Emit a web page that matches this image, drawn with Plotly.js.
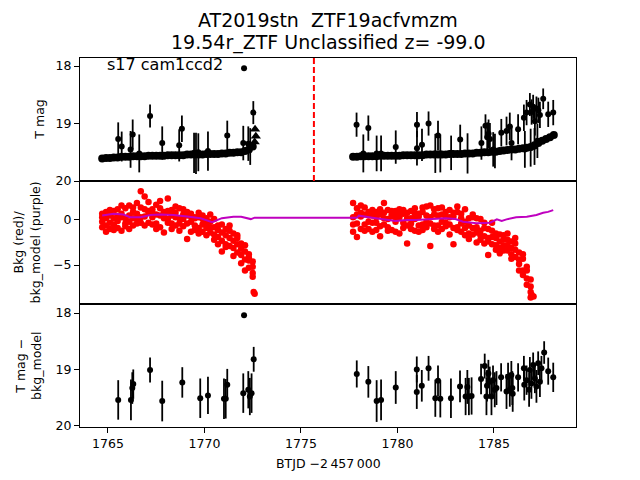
<!DOCTYPE html>
<html>
<head>
<meta charset="utf-8">
<script src="https://cdn.plot.ly/plotly-3.0.1.min.js"></script>
<style>html,body{margin:0;padding:0;background:#fff;}#plot{width:640px;height:480px;}</style>
</head>
<body>
<div id="plot"></div>
<script>
// ---------- data ----------
const t1 = [1764.7,1764.9,1765.1,1765.3,1765.5,1765.7,1765.9,1766.1,1766.3,1766.5,1766.7,1766.9,1767.1,1767.3,1767.5,1767.7,1767.9,1768.1,1768.3,1768.5,1768.7,1768.9,1769.1,1769.3,1769.5,1769.7,1769.9,1770.1,1770.3,1770.5,1770.7,1770.9,1771.1,1771.3,1771.5,1771.7,1771.9,1772.1,1772.3,1772.5];
const band1 = [19.61,19.60,19.60,19.59,19.59,19.58,19.58,19.58,19.57,19.57,19.57,19.57,19.56,19.56,19.56,19.56,19.56,19.55,19.55,19.55,19.55,19.55,19.54,19.54,19.54,19.54,19.54,19.53,19.53,19.53,19.53,19.52,19.52,19.51,19.51,19.50,19.50,19.48,19.45,19.40];
const bkgA1 = [0.3,-0.6,1.1,0.2,-0.9,0.7,1.3,-0.2,0.9,0.1,3.2,0.4,-0.3,1.2,0.6,-0.8,0.9,2.4,-0.4,0.8,0.2,-0.7,0.5,-1.3,0.3,-0.9,0.1,-1.7,-0.2,-0.8,-1.9,-0.5,-2.7,-1.2,-3.1,-2.0,-2.6,-4.4,-3.8,-5.9];
const bkgB1 = [-0.8,0.9,-0.3,1.0,0.4,-1.2,0.2,1.6,-0.6,1.9,0.3,2.6,1.0,-0.5,1.7,0.5,-1.4,0.1,1.1,-0.6,1.3,0.6,-2.1,0.4,-0.6,0.8,-1.3,0.2,-1.4,0.1,-0.6,-2.3,-1.0,-2.9,-1.5,-3.6,-3.9,-2.8,-5.3,-4.6];
const bkgC1 = [0.7,0.2,-1.0,-0.5,1.2,0.3,-0.7,0.5,0.2,-0.4,1.4,-0.6,0.8,0.3,-1.0,1.3,0.2,-0.3,0.5,1.5,-0.4,0.1,0.9,-0.2,-1.1,0.3,-0.5,-0.9,0.6,-1.6,-1.1,-3.5,-1.7,-0.6,-2.3,-2.7,-3.2,-3.5,-4.5,-6.3];
const bkgD1 = [-0.2,-1.3,0.5,-1.1,-0.1,1.6,-0.4,-1.0,1.4,0.7,-0.3,1.2,2.0,0.8,-0.4,2.1,0.6,1.0,-1.0,0.3,-1.2,1.2,-0.4,0.7,0.2,-1.5,0.5,-0.4,-0.8,-2.2,-2.7,-1.4,-3.0,-2.0,-4.0,-1.7,-4.8,-5.6,-4.2,-5.2];

const t2 = [1777.7,1777.9,1778.1,1778.3,1778.5,1778.7,1778.9,1779.1,1779.3,1779.5,1779.7,1779.9,1780.1,1780.3,1780.5,1780.7,1780.9,1781.1,1781.3,1781.5,1781.7,1781.9,1782.1,1782.3,1782.5,1782.7,1782.9,1783.1,1783.3,1783.5,1783.7,1783.9,1784.1,1784.3,1784.5,1784.7,1784.9,1785.1,1785.3,1785.5,1785.7,1785.9,1786.1,1786.3,1786.5,1786.7,1786.9,1787.1,1787.3,1787.5,1787.7,1787.9,1788.1];
const band2 = [19.58,19.58,19.57,19.57,19.57,19.57,19.57,19.56,19.56,19.56,19.56,19.56,19.56,19.55,19.55,19.55,19.55,19.55,19.55,19.54,19.54,19.54,19.54,19.54,19.54,19.53,19.53,19.53,19.53,19.52,19.52,19.52,19.51,19.51,19.50,19.50,19.49,19.49,19.48,19.47,19.46,19.45,19.45,19.44,19.43,19.42,19.41,19.38,19.34,19.30,19.27,19.24,19.20];
const bkgA2 = [1.9,-0.4,0.8,-1.2,0.5,1.1,-0.3,0.6,1.9,-0.8,0.4,1.0,-1.5,0.7,-2.6,0.2,1.3,-0.6,0.9,-0.2,1.6,-1.0,0.5,1.4,-0.7,0.3,-2.7,0.9,-0.4,1.2,-1.5,0.3,-0.8,-2.2,-0.3,-3.9,-1.2,-2.8,-1.6,-3.4,-2.2,-3.8,-2.6,-4.9,-4.3,-6.5,-8.6];
const bkgB2 = [-0.5,1.3,-1.0,0.6,-0.2,-1.3,0.9,-0.7,0.2,1.1,-1.1,-0.2,0.6,-0.9,0.8,-0.4,-1.2,0.7,-0.5,1.5,-2.9,0.6,-0.6,-0.2,0.9,-1.6,0.4,-0.8,0.7,-1.7,0.2,-1.6,-2.5,0.1,-1.8,-1.0,-2.7,-1.5,-3.1,-2.2,-3.4,-2.4,-4.1,-3.6,-5.6,-5.2,-7.4];
const bkgC2 = [0.3,-1.9,0.4,1.4,-1.0,0.5,-1.1,1.2,-0.5,0.1,1.0,-1.3,0.3,1.1,-0.6,1.0,0.1,-1.3,1.4,-0.8,0.3,1.2,-1.3,0.6,-0.3,1.1,-0.9,1.5,-1.3,-0.2,-0.6,0.6,-1.4,-1.2,-2.6,-2.0,-0.3,-3.3,-2.4,-2.9,-1.5,-3.1,-3.3,-5.6,-3.8,-7.2,-6.6];
const bkgD2 = [-1.3,0.6,1.6,-0.5,0.9,-0.3,0.3,-1.8,0.8,-1.2,0.6,0.4,1.2,-0.3,0.2,-1.0,0.7,0.4,-1.1,0.5,-0.4,-0.6,1.3,-1.0,0.4,-0.5,0.8,-1.1,0.2,-0.9,-2.1,-0.9,0.2,-1.7,-0.9,-2.4,-1.9,-2.0,-3.7,-1.7,-2.8,-4.3,-2.0,-4.4,-6.1,-5.6,-8.0];
const bkgTailT = [1772.55,1772.6,1786.95,1787.05];
const bkgTail = [-8.0,-8.2,-8.3,-8.5];

const modelT = [1764.7,1765.0,1765.3,1765.8,1766.15,1766.7,1767.2,1767.7,1768.4,1769.1,1769.8,1770.4,1770.9,1771.5,1771.9,1772.4,1772.6,1777.9,1778.0,1778.7,1779.3,1779.9,1780.5,1781.0,1781.8,1782.5,1783.0,1783.4,1784.1,1784.8,1785.15,1785.4,1785.65,1786.15,1786.7,1787.2,1787.55,1787.8,1788.07];
const modelV = [0.5,0.6,0.7,0.6,0.3,0.3,0.55,0.6,0.55,0.4,0.2,-0.25,0.2,0.37,0.37,0.1,0.26,0.26,0.48,0.26,0.1,-0.1,0.0,0.0,0.1,0.19,0.1,-0.19,-0.37,-0.3,0.07,-0.1,0.07,0.3,0.37,0.56,0.8,0.9,1.1];

const outT = [1765.53,1765.71,1766.17,1766.28,1766.62,1767.18,1767.81,1768.69,1768.83,1769.46,1769.56,1769.68,1770.18,1771.18,1772.01,1772.05,1772.27,1772.37,1772.53,
  1777.88,1778.23,1778.49,1778.92,1779.15,1779.91,1781.01,1781.01,1781.27,1781.61,1781.96,1782.10,1782.22,1782.78,1783.25,1783.63,1784.35,1784.56,1784.65,1784.72,1784.79,1784.96,1785.05,1785.38,1785.65,1785.82,1785.91,1786.25,1786.55,1786.60,1786.69,1786.86,1786.90,1786.95,1787.03,1787.10,1787.12,1787.20,1787.25,1787.30,1787.38,1787.55,1787.81,1788.07];
const outMag = [19.27,19.40,19.45,19.19,19.52,18.87,19.34,19.38,19.09,19.51,19.52,19.50,19.48,19.21,19.34,18.04,19.35,19.40,18.81,
  19.02,19.52,19.08,19.52,19.52,19.41,19.02,19.43,19.37,19.00,19.52,19.21,19.52,19.51,19.28,19.52,19.34,19.04,19.24,19.18,19.27,19.45,19.48,19.16,19.13,19.05,19.34,19.10,18.90,19.45,18.81,18.67,19.42,18.80,18.71,19.40,18.96,18.74,19.30,18.77,18.85,18.57,18.84,18.81];
const outErr = [0.29,0.26,0.32,0.26,0.33,0.20,0.29,0.28,0.23,0.35,0.36,0.33,0.34,0.26,0.30,0.04,0.30,0.32,0.20,
  0.21,0.33,0.22,0.31,0.31,0.29,0.22,0.30,0.28,0.21,0.34,0.26,0.33,0.30,0.26,0.35,0.29,0.20,0.26,0.25,0.28,0.30,0.30,0.24,0.25,0.24,0.30,0.26,0.23,0.32,0.22,0.20,0.33,0.22,0.21,0.32,0.25,0.21,0.30,0.22,0.23,0.18,0.22,0.22];
const limT = [1772.62,1772.66,1772.60];
const limMag = [19.10,19.22,19.32];

const resT = [1765.53,1766.19,1766.26,1766.31,1767.18,1767.81,1768.85,1769.78,1770.18,1771.01,1771.10,1771.18,1772.01,1772.05,1772.27,1772.35,1772.44,1772.55,
  1777.89,1778.49,1778.92,1779.15,1779.91,1781.0,1781.0,1781.26,1781.61,1781.96,1782.1,1782.22,1782.77,1783.24,1783.53,1783.62,1783.7,1783.84,1784.33,1784.52,1784.61,1784.64,1784.71,1784.78,1784.87,1784.95,1785.04,1785.13,1785.37,1785.65,1785.73,1785.82,1785.9,1785.95,1785.97,1786.25,1786.55,1786.57,1786.69,1786.82,1786.86,1786.94,1787.03,1787.12,1787.2,1787.29,1787.38,1787.46,1787.6,1787.81,1788.07];
const resMag = [19.54,19.54,19.33,19.26,19.01,19.56,19.23,19.51,19.46,19.52,19.52,19.27,19.42,18.04,19.36,19.48,19.42,18.82,
  19.08,19.22,19.56,19.54,19.32,19.0,19.40,19.29,18.98,19.51,19.20,19.52,19.51,19.30,19.48,19.31,19.48,19.47,19.17,18.94,19.48,19.29,19.07,19.22,19.48,19.19,19.36,19.33,19.14,19.39,19.13,19.36,19.10,19.33,19.43,19.14,18.98,19.27,19.19,19.36,19.01,19.25,18.92,19.16,19.30,18.89,19.22,18.98,18.70,19.03,19.14];
const resErr = [0.35,0.36,0.28,0.26,0.22,0.36,0.27,0.35,0.33,0.36,0.35,0.28,0.35,0.03,0.33,0.33,0.35,0.22,
  0.24,0.28,0.37,0.36,0.29,0.23,0.30,0.28,0.22,0.33,0.27,0.33,0.35,0.28,0.33,0.30,0.33,0.33,0.27,0.22,0.33,0.28,0.24,0.27,0.33,0.26,0.31,0.30,0.25,0.31,0.25,0.30,0.25,0.30,0.32,0.25,0.22,0.28,0.26,0.30,0.23,0.27,0.22,0.26,0.29,0.21,0.27,0.22,0.20,0.24,0.26];

const peakTime = 1775.67;
const bandErr = 0.04;
const titleLines = ['AT2019stn \u00a0ZTF19acfvmzm', '19.54r_ZTF Unclassified z= -99.0'];

// ---------- traces ----------
const FONT = 'DejaVu Sans, sans-serif';
const red = '#ff0000', purple = '#bf00bf';
function bkgTrace(x, y) {
  return {x: x, y: y, xaxis: 'x3', yaxis: 'y2', type: 'scatter', mode: 'markers',
    marker: {color: red, size: 6.5}, hoverinfo: 'skip', showlegend: false};
}
function bandTrace(x, y) {
  return {x: x, y: y, xaxis: 'x2', yaxis: 'y', type: 'scatter', mode: 'markers',
    marker: {color: 'black', size: 8},
    error_y: {type: 'constant', value: bandErr, color: 'black', thickness: 1.5, width: 0}, showlegend: false};
}
const traces = [
  bandTrace(t1, band1), bandTrace(t2, band2),
  {x: outT, y: outMag, xaxis: 'x2', yaxis: 'y', type: 'scatter', mode: 'markers',
   marker: {color: 'black', size: 6}, error_y: {type: 'data', array: outErr, color: 'black', thickness: 1.8, width: 0}, showlegend: false},
  {x: limT, y: limMag, xaxis: 'x2', yaxis: 'y', type: 'scatter', mode: 'markers',
   marker: {color: 'black', size: 9, symbol: 'triangle-up'}, showlegend: false},
  bkgTrace(t1, bkgA1), bkgTrace(t1, bkgB1), bkgTrace(t1, bkgC1), bkgTrace(t1, bkgD1),
  bkgTrace(t2.slice(0, bkgA2.length), bkgA2), bkgTrace(t2.slice(0, bkgB2.length), bkgB2),
  bkgTrace(t2.slice(0, bkgC2.length), bkgC2), bkgTrace(t2.slice(0, bkgD2.length), bkgD2),
  bkgTrace(bkgTailT, bkgTail),
  {x: modelT, y: modelV, xaxis: 'x3', yaxis: 'y2', type: 'scatter', mode: 'lines',
   line: {color: purple, width: 2}, showlegend: false},
  {x: resT, y: resMag, xaxis: 'x', yaxis: 'y3', type: 'scatter', mode: 'markers',
   marker: {color: 'black', size: 6}, error_y: {type: 'data', array: resErr, color: 'black', thickness: 1.8, width: 0}, showlegend: false}
];

const common = {showline: true, linecolor: 'black', linewidth: 1, mirror: true, ticks: 'outside', ticklen: 5,
  tickcolor: 'black', showgrid: false, zeroline: false, tickfont: {family: FONT, size: 12.5, color: 'black'}};
const xr = [1763.55, 1789.25];

const layout = {
  width: 640, height: 480,
  margin: {l: 80, r: 64, t: 58, b: 53},
  paper_bgcolor: 'white', plot_bgcolor: 'white',
  font: {family: FONT, color: 'black'},
  showlegend: false,
  xaxis: Object.assign({}, common, {range: xr, anchor: 'y3', tickvals: [1765, 1770, 1775, 1780, 1785]}),
  xaxis2: Object.assign({}, common, {range: xr, anchor: 'y', matches: 'x', showticklabels: false, ticks: ''}),
  xaxis3: Object.assign({}, common, {range: xr, anchor: 'y2', matches: 'x', showticklabels: false, ticks: ''}),
  yaxis: Object.assign({}, common, {domain: [2/3, 1], range: [20.0, 17.86], anchor: 'x2', tickvals: [18, 19, 20]}),
  yaxis2: Object.assign({}, common, {domain: [1/3, 2/3], range: [-9.33, 4.33], anchor: 'x3', tickvals: [-5, 0]}),
  yaxis3: Object.assign({}, common, {domain: [0, 1/3], range: [20.02, 17.84], anchor: 'x', tickvals: [18, 19, 20]}),
  shapes: [
    {type: 'line', xref: 'x2', yref: 'y domain', x0: peakTime, x1: peakTime, y0: 0, y1: 1,
     line: {color: red, width: 2, dash: '6px,3px'}}
  ],
  annotations: [
    {text: titleLines[0], xref: 'paper', yref: 'paper', x: 0.5, y: (427 - 20) / 369, xanchor: 'center', yanchor: 'middle',
     showarrow: false, font: {family: FONT, size: 19, color: 'black'}},
    {text: titleLines[1], xref: 'paper', yref: 'paper', x: 0.5, y: (427 - 43) / 369, xanchor: 'center', yanchor: 'middle',
     showarrow: false, font: {family: FONT, size: 19, color: 'black'}},
    {text: 's17 cam1ccd2', xref: 'x2 domain', yref: 'y domain', x: 0.05, y: 0.95, xanchor: 'left', yanchor: 'middle',
     showarrow: false, font: {family: FONT, size: 16, color: 'black'}},
    {text: 'BTJD \u22122\u2009457\u2009000', xref: 'paper', yref: 'paper', x: 0.5, y: -0.1, xanchor: 'center', yanchor: 'middle',
     showarrow: false, font: {family: FONT, size: 12.5, color: 'black'}},
    {text: 'T mag', xref: 'paper', yref: 'paper', x: -0.0806, y: 0.833, xanchor: 'center', yanchor: 'middle', textangle: -90,
     showarrow: false, font: {family: FONT, size: 12.5, color: 'black'}},
    {text: 'Bkg (red)/<br>bkg_model (purple)', xref: 'paper', yref: 'paper', x: -0.107, y: 0.5, xanchor: 'center', yanchor: 'middle', textangle: -90,
     showarrow: false, font: {family: FONT, size: 12.5, color: 'black'}},
    {text: 'T mag \u2212<br>bkg_model', xref: 'paper', yref: 'paper', x: -0.104, y: 0.1667, xanchor: 'center', yanchor: 'middle', textangle: -90,
     showarrow: false, font: {family: FONT, size: 12.5, color: 'black'}}
  ]
};

Plotly.newPlot('plot', traces, layout, {staticPlot: true, displayModeBar: false});
</script>
</body>
</html>
